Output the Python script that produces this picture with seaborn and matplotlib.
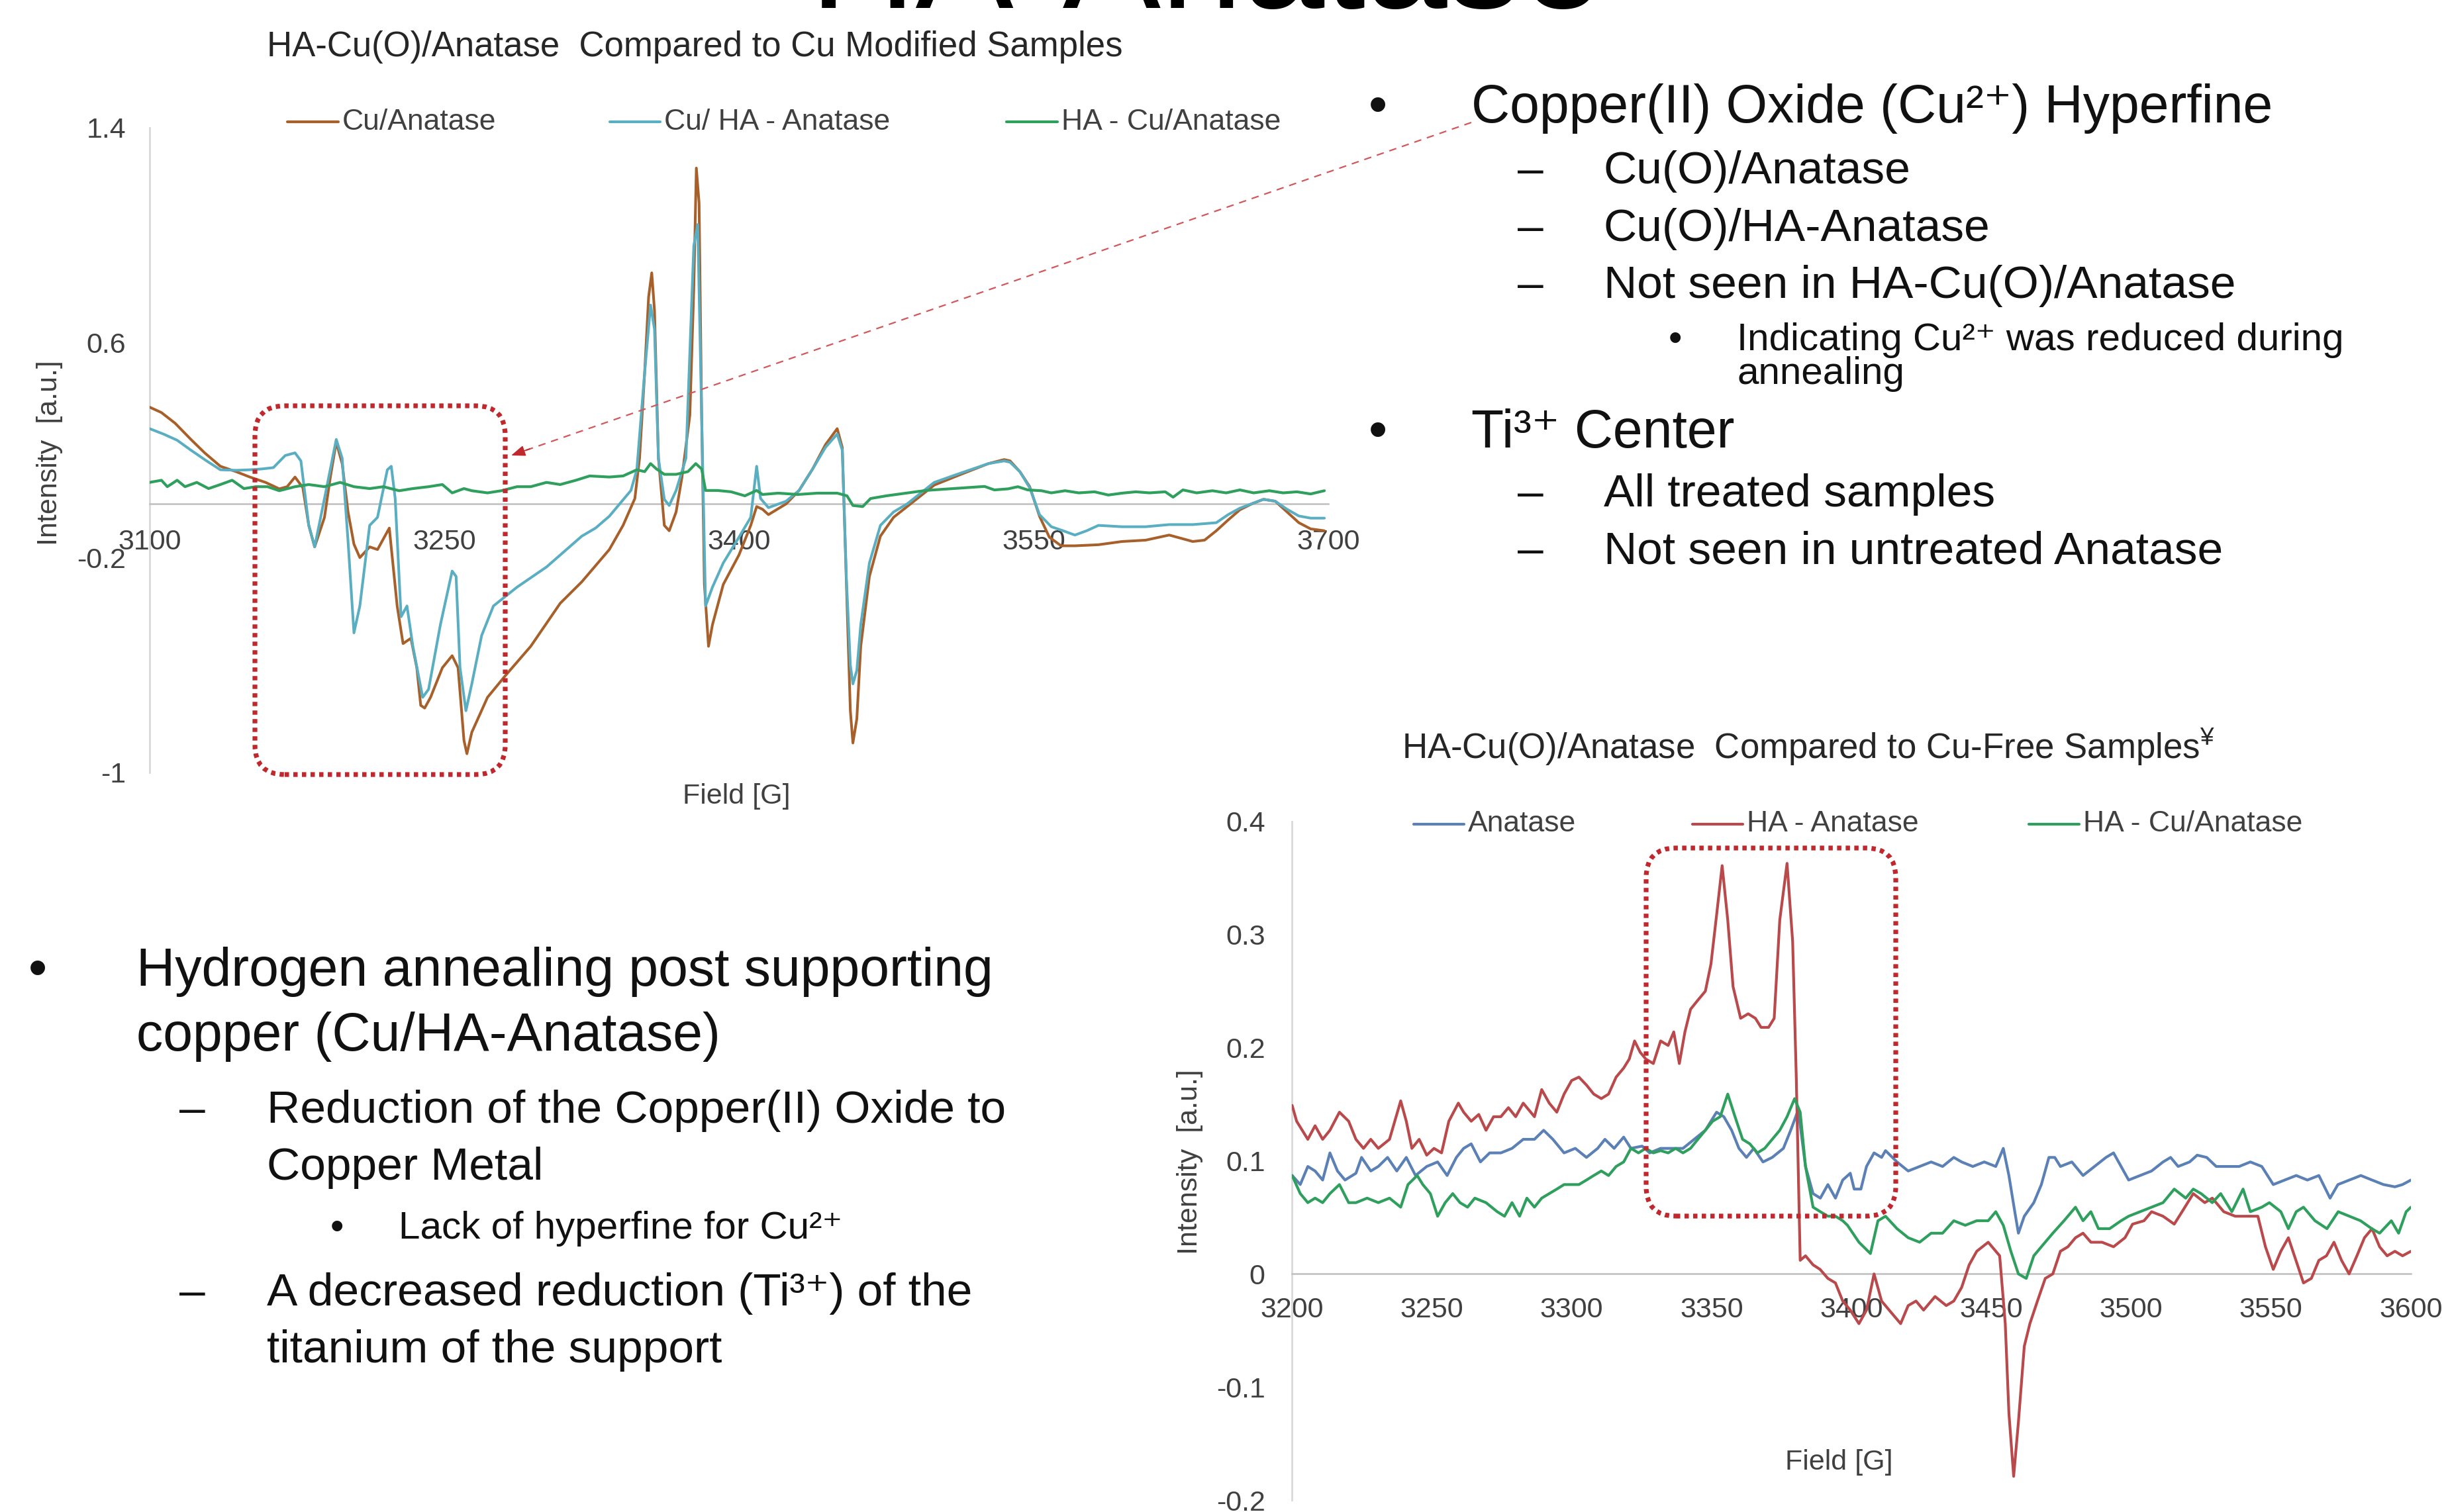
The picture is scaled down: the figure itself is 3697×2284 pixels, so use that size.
import matplotlib
matplotlib.use("Agg")
import matplotlib.pyplot as plt
import seaborn as sns
from matplotlib.lines import Line2D
from matplotlib.patches import FancyBboxPatch, FancyArrowPatch

# ---------------------------------------------------------------- data
# Upper panel: Cu modified samples (Field [G] vs Intensity [a.u.])
cu_anatase_field = [3100, 3106, 3113, 3121, 3128, 3136, 3144, 3151, 3159, 3166,
                    3170, 3174, 3178, 3181, 3184, 3189, 3192, 3195, 3198, 3201,
                    3204, 3207, 3212, 3216, 3219, 3222, 3226, 3229, 3233, 3236,
                    3238, 3240, 3243, 3249, 3254, 3257, 3260, 3261.5, 3264, 3272,
                    3281, 3294, 3309, 3320, 3327, 3334, 3341, 3347, 3349.4, 3352,
                    3354, 3355.6, 3357, 3359, 3362, 3364.5, 3368, 3371, 3375, 3377,
                    3378.3, 3379.7, 3381, 3382.4, 3384.5, 3386.5, 3392, 3400, 3406, 3409,
                    3412, 3415, 3424, 3430.6, 3437.5, 3444, 3450, 3452.6, 3454.7, 3456.7,
                    3458, 3460, 3462, 3466.4, 3472, 3478.7, 3485.6, 3492.5, 3499.4, 3513,
                    3527, 3535, 3538, 3543, 3548, 3553, 3558, 3564, 3571, 3583,
                    3595, 3607, 3619, 3631, 3637, 3643, 3649, 3655, 3661, 3667,
                    3673, 3679, 3685, 3691, 3698]
cu_anatase_int = [0.36, 0.34, 0.30, 0.24, 0.19, 0.14, 0.12, 0.10, 0.08, 0.056,
                  0.064, 0.10, 0.06, -0.08, -0.16, -0.05, 0.10, 0.23, 0.15, -0.03,
                  -0.15, -0.20, -0.16, -0.17, -0.13, -0.09, -0.38, -0.52, -0.50, -0.61,
                  -0.75, -0.76, -0.72, -0.61, -0.565, -0.61, -0.88, -0.93, -0.85, -0.72,
                  -0.64, -0.53, -0.37, -0.29, -0.23, -0.17, -0.08, 0.02, 0.17, 0.49,
                  0.77, 0.86, 0.72, 0.17, -0.08, -0.10, -0.03, 0.10, 0.33, 0.80,
                  1.25, 1.12, 0.33, -0.30, -0.53, -0.45, -0.30, -0.19, -0.08, -0.01,
                  -0.02, -0.04, 0.0, 0.05, 0.13, 0.22, 0.28, 0.21, -0.30, -0.77,
                  -0.89, -0.80, -0.53, -0.27, -0.12, -0.05, -0.01, 0.03, 0.07, 0.11,
                  0.15, 0.165, 0.16, 0.12, 0.064, -0.046, -0.124, -0.156, -0.156, -0.152,
                  -0.14, -0.135, -0.116, -0.14, -0.135, -0.10, -0.06, -0.022, 0.0, 0.017,
                  0.01, -0.03, -0.07, -0.093, -0.10]

cu_ha_anatase_field = [3100, 3107, 3114, 3121, 3129, 3136, 3144, 3151, 3157, 3163,
                       3169, 3174, 3177, 3181, 3184, 3189, 3195, 3198, 3201, 3204,
                       3207, 3212, 3216, 3221, 3223, 3225, 3228, 3231, 3234, 3239,
                       3242, 3248, 3254, 3256, 3258, 3261, 3264, 3269, 3275, 3287,
                       3302, 3320, 3327, 3334, 3345, 3348, 3352, 3355, 3357, 3359,
                       3362, 3364.5, 3368, 3373, 3377, 3379, 3381, 3383, 3386.5, 3392,
                       3400, 3406, 3409, 3411, 3415, 3424, 3430.6, 3437.5, 3444, 3450,
                       3452.6, 3454.7, 3456.7, 3458, 3460, 3462, 3466.4, 3472, 3478.7, 3485.6,
                       3492.5, 3499.4, 3513, 3527, 3535, 3538, 3543, 3548, 3553, 3559,
                       3565, 3571, 3577, 3583, 3595, 3607, 3619, 3631, 3643, 3649,
                       3655, 3667, 3673, 3679, 3685, 3691, 3698]
cu_ha_anatase_int = [0.28, 0.26, 0.237, 0.20, 0.16, 0.127, 0.125, 0.127, 0.13, 0.135,
                     0.18, 0.19, 0.16, -0.08, -0.16, 0.02, 0.24, 0.17, -0.14, -0.48,
                     -0.38, -0.08, -0.05, 0.127, 0.14, 0.02, -0.42, -0.38, -0.53, -0.72,
                     -0.69, -0.45, -0.25, -0.27, -0.61, -0.77, -0.67, -0.49, -0.38, -0.31,
                     -0.235, -0.12, -0.09, -0.046, 0.05, 0.127, 0.49, 0.74, 0.65, 0.17,
                     0.017, -0.006, 0.05, 0.17, 0.96, 1.04, 0.33, -0.38, -0.31, -0.22,
                     -0.124, -0.05, 0.14, 0.02, -0.014, 0.01, 0.05, 0.13, 0.21, 0.26,
                     0.20, -0.28, -0.60, -0.67, -0.62, -0.45, -0.22, -0.08, -0.03, 0.0,
                     0.04, 0.08, 0.115, 0.15, 0.16, 0.155, 0.12, 0.06, -0.04, -0.085,
                     -0.10, -0.116, -0.10, -0.08, -0.085, -0.085, -0.077, -0.077, -0.07, -0.04,
                     -0.016, 0.017, 0.01, -0.02, -0.045, -0.053, -0.053]

ha_cu_anatase_field_top = [3100, 3106, 3109, 3114, 3118, 3124, 3130, 3136, 3142, 3148,
                           3154, 3160, 3166, 3174, 3181, 3189, 3197, 3204, 3212, 3219,
                           3227, 3234, 3242, 3249, 3254, 3260, 3264, 3272, 3279, 3287,
                           3294, 3302, 3309, 3317, 3324, 3334, 3341, 3348, 3352, 3355,
                           3358, 3362, 3368, 3374, 3378, 3381, 3383, 3389, 3396, 3403,
                           3409, 3412, 3420, 3430, 3440, 3450, 3455, 3458, 3463, 3467,
                           3475, 3485, 3495, 3505, 3515, 3525, 3530, 3537, 3542, 3547,
                           3554, 3559, 3566, 3573, 3581, 3588, 3595, 3602, 3609, 3617,
                           3621, 3626, 3633, 3641, 3648, 3655, 3662, 3670, 3677, 3684,
                           3691, 3698]
ha_cu_anatase_int_top = [0.080, 0.088, 0.064, 0.088, 0.064, 0.080, 0.057, 0.072, 0.088, 0.057,
                         0.064, 0.064, 0.049, 0.064, 0.072, 0.064, 0.080, 0.064, 0.057, 0.064,
                         0.049, 0.057, 0.064, 0.072, 0.041, 0.057, 0.049, 0.041, 0.049, 0.064,
                         0.064, 0.080, 0.072, 0.088, 0.104, 0.100, 0.104, 0.127, 0.120, 0.150,
                         0.130, 0.110, 0.110, 0.120, 0.150, 0.130, 0.050, 0.050, 0.045, 0.030,
                         0.050, 0.035, 0.040, 0.035, 0.040, 0.040, 0.030, -0.006, -0.010, 0.020,
                         0.030, 0.040, 0.050, 0.055, 0.060, 0.065, 0.052, 0.056, 0.064, 0.052,
                         0.049, 0.041, 0.049, 0.041, 0.045, 0.033, 0.040, 0.045, 0.041, 0.045,
                         0.025, 0.052, 0.041, 0.049, 0.041, 0.052, 0.041, 0.049, 0.041, 0.045,
                         0.037, 0.049]

# Lower panel: Cu-free samples
anatase_field = [3200.1, 3203, 3205.7, 3208.3, 3211, 3213.6, 3216.3, 3219, 3222.9, 3224.9,
                 3228.2, 3230.9, 3234.2, 3237.5, 3240.9, 3244.2, 3248.2, 3252.1, 3255.5, 3258.8,
                 3261.4, 3264.1, 3267.4, 3270.7, 3274.7, 3278.7, 3282.7, 3286.7, 3290, 3293.3,
                 3297.3, 3301.3, 3305.3, 3309.3, 3311.9, 3315.2, 3318.6, 3321.2, 3325.2, 3327.9,
                 3331.8, 3335.8, 3339.8, 3343.8, 3347.8, 3351.8, 3354.4, 3357.2, 3359.8, 3362.5,
                 3365.1, 3368.4, 3371.7, 3375.7, 3378.3, 3381, 3383.6, 3386.3, 3388.9, 3391.6,
                 3394.3, 3396.9, 3399.6, 3401, 3403.4, 3405.4, 3408.1, 3410.8, 3412.2, 3416.3,
                 3420.3, 3424.4, 3428.5, 3432.6, 3436.6, 3439.4, 3443.4, 3447.5, 3451.6, 3454.3,
                 3456.3, 3458.4, 3459.7, 3461.8, 3465.2, 3467.9, 3470.6, 3472.7, 3474.7, 3478.8,
                 3482.8, 3486.9, 3491, 3493.7, 3496.4, 3499.1, 3503.2, 3507.3, 3511.4, 3514.1,
                 3516.8, 3520.9, 3523.6, 3527, 3530.4, 3534.5, 3538.6, 3542.6, 3546.7, 3550.8,
                 3554.9, 3559, 3563, 3567.1, 3571.1, 3573.9, 3578, 3582.1, 3586.1, 3590.2,
                 3594.3, 3597, 3600]
anatase_int = [0.087, 0.079, 0.095, 0.091, 0.083, 0.107, 0.091, 0.083, 0.089, 0.103,
               0.091, 0.095, 0.103, 0.091, 0.103, 0.087, 0.095, 0.099, 0.087, 0.103,
               0.111, 0.115, 0.099, 0.107, 0.107, 0.111, 0.119, 0.119, 0.127, 0.119,
               0.107, 0.111, 0.103, 0.111, 0.119, 0.111, 0.121, 0.111, 0.113, 0.107,
               0.111, 0.111, 0.111, 0.119, 0.127, 0.143, 0.139, 0.127, 0.111, 0.103,
               0.111, 0.099, 0.103, 0.111, 0.127, 0.145, 0.095, 0.071, 0.067, 0.079,
               0.067, 0.083, 0.089, 0.075, 0.075, 0.095, 0.107, 0.103, 0.109, 0.099,
               0.091, 0.095, 0.099, 0.095, 0.103, 0.099, 0.095, 0.099, 0.095, 0.111,
               0.087, 0.055, 0.036, 0.051, 0.063, 0.079, 0.103, 0.103, 0.095, 0.099,
               0.087, 0.095, 0.103, 0.107, 0.095, 0.083, 0.087, 0.091, 0.099, 0.103,
               0.095, 0.099, 0.105, 0.103, 0.095, 0.095, 0.095, 0.099, 0.095, 0.079,
               0.083, 0.087, 0.083, 0.087, 0.067, 0.079, 0.083, 0.087, 0.083, 0.079,
               0.077, 0.079, 0.083]

ha_anatase_field = [3200.1, 3201.7, 3205.7, 3208.3, 3211.0, 3213.6, 3217.0, 3220.3, 3222.9, 3225.6,
                    3228.2, 3230.9, 3234.9, 3238.9, 3240.9, 3242.9, 3245.5, 3248.2, 3250.8, 3253.5,
                    3256.1, 3259.5, 3261.4, 3264.1, 3266.8, 3269.4, 3272.1, 3274.7, 3277.4, 3280.0,
                    3282.7, 3286.7, 3289.3, 3292.0, 3294.7, 3297.3, 3300.0, 3302.6, 3305.3, 3307.9,
                    3310.6, 3313.2, 3315.9, 3318.6, 3320.6, 3322.5, 3324.5, 3326.5, 3329.2, 3331.8,
                    3334.5, 3336.5, 3338.5, 3340.5, 3342.5, 3345.1, 3347.8, 3349.8, 3351.8, 3353.8,
                    3355.8, 3357.7, 3360.4, 3363.1, 3365.7, 3367.7, 3370.4, 3372.4, 3374.4, 3377.0,
                    3379.0, 3380.3, 3381.7, 3383.6, 3386.3, 3388.8, 3391.6, 3394.3, 3396.9, 3399.6,
                    3402.7, 3405.4, 3408.1, 3410.8, 3413.5, 3417.6, 3420.3, 3423.1, 3425.8, 3429.9,
                    3433.9, 3436.6, 3439.4, 3442.1, 3444.8, 3448.9, 3453.0, 3455.0, 3456.3, 3458.0,
                    3459.7, 3461.8, 3463.8, 3466.5, 3469.3, 3472.0, 3474.7, 3477.4, 3480.1, 3482.8,
                    3485.6, 3489.6, 3493.7, 3497.8, 3500.5, 3504.6, 3507.3, 3511.4, 3515.4, 3518.2,
                    3522.2, 3526.3, 3529.0, 3533.1, 3537.2, 3541.3, 3545.3, 3548.0, 3550.8, 3553.5,
                    3556.2, 3558.9, 3561.6, 3564.4, 3567.1, 3569.8, 3572.5, 3575.2, 3577.9, 3580.7,
                    3583.4, 3586.1, 3588.8, 3591.5, 3594.3, 3597.0, 3600.0]
ha_anatase_int = [0.149, 0.135, 0.119, 0.131, 0.119, 0.127, 0.143, 0.135, 0.119, 0.111,
                  0.119, 0.111, 0.119, 0.153, 0.135, 0.111, 0.119, 0.105, 0.111, 0.107,
                  0.135, 0.151, 0.143, 0.135, 0.141, 0.127, 0.139, 0.139, 0.147, 0.139,
                  0.151, 0.139, 0.163, 0.151, 0.143, 0.159, 0.171, 0.174, 0.167, 0.159,
                  0.155, 0.159, 0.174, 0.182, 0.190, 0.206, 0.196, 0.190, 0.186, 0.206,
                  0.202, 0.214, 0.186, 0.214, 0.234, 0.242, 0.250, 0.274, 0.317, 0.361,
                  0.313, 0.254, 0.226, 0.230, 0.226, 0.218, 0.218, 0.226, 0.313, 0.363,
                  0.294, 0.174, 0.012, 0.016, 0.008, 0.004, -0.004, -0.008, -0.024, -0.032,
                  -0.044, -0.032, 0.000, -0.024, -0.032, -0.044, -0.028, -0.024, -0.032, -0.020,
                  -0.028, -0.024, -0.012, 0.008, 0.020, 0.028, 0.016, -0.044, -0.123, -0.179,
                  -0.131, -0.064, -0.044, -0.024, -0.004, 0.000, 0.020, 0.024, 0.032, 0.036,
                  0.028, 0.028, 0.024, 0.032, 0.044, 0.047, 0.055, 0.051, 0.044, 0.055,
                  0.071, 0.063, 0.067, 0.055, 0.051, 0.051, 0.051, 0.024, 0.004, 0.020,
                  0.032, 0.012, -0.008, -0.004, 0.012, 0.016, 0.028, 0.012, 0.000, 0.016,
                  0.032, 0.040, 0.024, 0.016, 0.020, 0.016, 0.020]

ha_cu_anatase_field = [3200.1, 3203, 3205.7, 3208.3, 3211, 3213.6, 3217, 3220.3, 3222.9, 3226.9,
                       3230.9, 3234.9, 3238.9, 3241.5, 3244.8, 3246.8, 3249.5, 3252.1, 3254.8, 3257.5,
                       3260.1, 3262.8, 3265.4, 3269.4, 3273.4, 3276, 3278.7, 3281.4, 3284, 3286.7,
                       3289.3, 3292, 3294.7, 3297.3, 3300, 3302.6, 3305.3, 3307.9, 3310.6, 3313.2,
                       3315.9, 3318.6, 3321.2, 3323.9, 3326.5, 3329.2, 3331.8, 3334.5, 3337.2, 3339.8,
                       3342.5, 3345.1, 3347.8, 3350.4, 3353.1, 3355.8, 3358.4, 3361.1, 3363.7, 3366.4,
                       3369, 3371.7, 3374.4, 3377, 3379.7, 3381.7, 3383.6, 3386.3, 3388.9, 3391.6,
                       3394.3, 3396.9,
                       3398.6, 3402.7, 3406.8, 3409.5, 3412.2, 3416.3, 3420.3, 3424.4, 3428.5, 3432.6,
                       3436.6, 3440.7, 3444.8, 3448.9, 3451.6, 3454.3, 3457, 3459.7, 3462.5, 3465.2,
                       3467.9, 3472, 3476, 3480.1, 3482.8, 3485.6, 3488.3, 3492.3, 3496.4, 3499.1,
                       3503.2, 3507.3, 3511.4, 3515.4, 3519.5, 3522.2, 3525, 3529, 3532, 3536,
                       3540, 3542.6, 3546.7, 3549.4, 3553.5, 3556.2, 3559, 3561.6, 3565.7, 3570,
                       3574, 3578, 3582, 3586, 3588.8, 3593, 3595.6, 3598.3, 3600]
ha_cu_anatase_int = [0.087, 0.071, 0.063, 0.067, 0.063, 0.071, 0.079, 0.063, 0.063, 0.067,
                     0.063, 0.067, 0.059, 0.079, 0.087, 0.079, 0.071, 0.051, 0.063, 0.071,
                     0.063, 0.059, 0.067, 0.063, 0.055, 0.051, 0.063, 0.051, 0.067, 0.059,
                     0.067, 0.071, 0.075, 0.079, 0.079, 0.079, 0.083, 0.087, 0.091, 0.087,
                     0.095, 0.099, 0.111, 0.107, 0.111, 0.107, 0.109, 0.107, 0.111, 0.107,
                     0.111, 0.119, 0.127, 0.135, 0.139, 0.159, 0.139, 0.119, 0.115, 0.107,
                     0.111, 0.119, 0.127, 0.139, 0.155, 0.143, 0.095, 0.059, 0.055, 0.051,
                     0.051, 0.047,
                     0.043, 0.028, 0.018, 0.047, 0.051, 0.040, 0.032, 0.028, 0.036, 0.036,
                     0.047, 0.043, 0.047, 0.047, 0.055, 0.043, 0.020, 0.000, -0.004, 0.016,
                     0.024, 0.036, 0.047, 0.059, 0.047, 0.055, 0.040, 0.040, 0.047, 0.051,
                     0.055, 0.059, 0.063, 0.075, 0.067, 0.075, 0.071, 0.063, 0.071, 0.055,
                     0.075, 0.055, 0.059, 0.063, 0.055, 0.040, 0.055, 0.059, 0.047, 0.040,
                     0.055, 0.051, 0.047, 0.040, 0.036, 0.047, 0.036, 0.055, 0.059]

top_xticks = [3100, 3250, 3400, 3550, 3700]
top_yticks = [-1.0, -0.2, 0.6, 1.4]
top_ylabels = ["-1", "-0.2", "0.6", "1.4"]
bot_xticks = [3200, 3250, 3300, 3350, 3400, 3450, 3500, 3550, 3600]
bot_yticks = [-0.2, -0.1, 0.0, 0.1, 0.2, 0.3, 0.4]
bot_ylabels = ["-0.2", "-0.1", "0", "0.1", "0.2", "0.3", "0.4"]

# ---------------------------------------------------------------- style
W, H, DPI = 3698, 2284, 100
sns.set_style("white")
plt.rcParams["font.family"] = ["Liberation Sans", "DejaVu Sans"]
plt.rcParams["mathtext.fontset"] = "custom"
plt.rcParams["mathtext.rm"] = "Liberation Sans"
plt.rcParams["mathtext.it"] = "Liberation Sans:italic"
plt.rcParams["mathtext.bf"] = "Liberation Sans:bold"

C_CU = "#a8602b"
C_CUHA = "#5aaec2"
C_HACU = "#2f9f5d"
C_ANA = "#5b80b6"
C_HAANA = "#b9494b"
BOX_RED = "#c0282d"
TXT = "#111111"
AXTXT = "#404040"

fig = plt.figure(figsize=(W / DPI, H / DPI), dpi=DPI)
fig.patch.set_facecolor("white")


def fx(px):
    return px / W


def fy(py):
    return 1 - py / H


def axes_px(left, top, right, bottom):
    return fig.add_axes([fx(left), fy(bottom), (right - left) / W, (bottom - top) / H])


def style_axes(ax, xlim, ylim, xmajor, xminor, yticks, ylabels, xpad, ypad):
    ax.set_xlim(*xlim)
    ax.set_ylim(*ylim)
    ax.set_facecolor("none")
    ax.grid(False)
    for s in ("top", "right"):
        ax.spines[s].set_visible(False)
    ax.spines["left"].set_color("#d9d9d9")
    ax.spines["left"].set_linewidth(2)
    ax.spines["bottom"].set_position(("data", 0))
    ax.spines["bottom"].set_color("#bfbfbf")
    ax.spines["bottom"].set_linewidth(1.8)
    ax.set_xticks(xmajor)
    ax.set_xticks(xminor, minor=True)
    ax.set_yticks(yticks)
    ax.set_yticklabels(ylabels)
    ax.tick_params(axis="x", which="both", direction="in", length=7, width=1.5,
                   color="#bfbfbf", pad=xpad, labelsize=31, labelcolor=AXTXT)
    ax.tick_params(axis="x", which="minor", length=6)
    ax.tick_params(axis="y", length=0, pad=ypad, labelsize=31, labelcolor=AXTXT)


def draw_series(ax, x, y, color, lw):
    sns.lineplot(x=x, y=y, ax=ax, color=color, linewidth=lw, estimator=None,
                 legend=False, zorder=3)


def legend_entry(x0, x1, y, color, label):
    fig.add_artist(Line2D([fx(x0), fx(x1)], [fy(y), fy(y)], transform=fig.transFigure,
                          color=color, lw=3))
    fig.text(fx(x1 + 6), fy(y), label, ha="left", va="center", fontsize=32, color=AXTXT)


# ---------------------------------------------------------------- upper chart
ax1 = axes_px(226, 193, 2006, 1167)
draw_series(ax1, cu_anatase_field, cu_anatase_int, C_CU, 2.9)
draw_series(ax1, cu_ha_anatase_field, cu_ha_anatase_int, C_CUHA, 2.9)
draw_series(ax1, ha_cu_anatase_field_top, ha_cu_anatase_int_top, C_HACU, 3.0)
style_axes(ax1, (3100, 3700), (-1.0, 1.4), top_xticks, list(range(3100, 3701, 50)),
           top_yticks, top_ylabels, xpad=27, ypad=26)
ax1.set_xlabel("Field [G]", fontsize=31, color=AXTXT)
ax1.xaxis.set_label_coords(0.498, -0.037)
ax1.xaxis.label.set_verticalalignment("center")
ax1.set_ylabel("Intensity  [a.u.]", fontsize=31, color=AXTXT)
ax1.yaxis.set_label_coords(-0.0848, 0.496)
ax1.yaxis.label.set_verticalalignment("center")
ax1.set_title("HA-Cu(O)/Anatase  Compared to Cu Modified Samples", x=0.4624, y=1.1253,
              va="center", fontsize=38, color="#262626", pad=0)

legend_entry(434, 511, 184, C_CU, "Cu/Anatase")
legend_entry(921, 997, 184, C_CUHA, "Cu/ HA - Anatase")
legend_entry(1520, 1597, 184, C_HACU, "HA - Cu/Anatase")

# ---------------------------------------------------------------- lower chart
ax2 = axes_px(1951, 1241, 3641, 2266)
draw_series(ax2, anatase_field, anatase_int, C_ANA, 3.0)
draw_series(ax2, ha_anatase_field, ha_anatase_int, C_HAANA, 3.0)
draw_series(ax2, ha_cu_anatase_field, ha_cu_anatase_int, C_HACU, 3.0)
style_axes(ax2, (3200, 3600), (-0.2, 0.4), bot_xticks, list(range(3200, 3601, 25)),
           bot_yticks, bot_ylabels, xpad=25, ypad=29)
ax2.set_xlabel("Field [G]", fontsize=31, color=AXTXT)
ax2.xaxis.set_label_coords(0.489, 0.0556)
ax2.xaxis.label.set_verticalalignment("center")
ax2.set_ylabel("Intensity  [a.u.]", fontsize=31, color=AXTXT)
ax2.yaxis.set_label_coords(-0.0911, 0.4985)
ax2.yaxis.label.set_verticalalignment("center")
ax2.set_title(r"HA-Cu(O)/Anatase  Compared to Cu-Free Samples$^{¥}$", x=0.4615, y=1.1093,
              va="center", fontsize=38, color="#262626", pad=0)

legend_entry(2135, 2211, 1245, C_ANA, "Anatase")
legend_entry(2556, 2632, 1245, C_HAANA, "HA - Anatase")
legend_entry(3064, 3140, 1245, C_HACU, "HA - Cu/Anatase")

# ---------------------------------------------------------------- highlight boxes and arrow
inch = fig.dpi_scale_trans


def red_box(x0, y0, x1, y1, r=45):
    box = FancyBboxPatch((x0 / DPI, (H - y1) / DPI), (x1 - x0) / DPI, (y1 - y0) / DPI,
                         boxstyle=f"round,pad=0,rounding_size={r / DPI}", transform=inch,
                         fill=False, edgecolor=BOX_RED, lw=5.2, linestyle=(0, (0.9, 0.9)),
                         zorder=5)
    fig.add_artist(box)


red_box(385, 613, 763, 1170)
red_box(2486, 1281, 2863, 1837)

fig.add_artist(Line2D([2222 / DPI, 792 / DPI], [(H - 185) / DPI, (H - 681) / DPI],
                      transform=inch, color="#d2575a", lw=1.6, linestyle=(0, (5, 4)),
                      zorder=5))
fig.add_artist(FancyArrowPatch((800 / DPI, (H - 678) / DPI), (772 / DPI, (H - 688) / DPI),
                               transform=inch, arrowstyle="-|>,head_length=1.3,head_width=0.5",
                               mutation_scale=10, color=BOX_RED, lw=1.2,
                               shrinkA=0, shrinkB=0, zorder=5))

# ---------------------------------------------------------------- slide text
fig.text(fx(1822), fy(12), "HA-Anatase", fontsize=160, ha="center", va="baseline",
         color="black")


def put(px, py, s, size):
    fig.text(fx(px), fy(py), s, fontsize=size, ha="left", va="baseline", color=TXT)


L1, L2, L3 = 58, 50, 42

put(2067, 185, "•", L1)
put(2222, 185, "Copper(II) Oxide (Cu²⁺) Hyperfine", L1)
put(2292, 277, "–", L2)
put(2422, 277, "Cu(O)/Anatase", L2)
put(2292, 364, "–", L2)
put(2422, 364, "Cu(O)/HA-Anatase", L2)
put(2292, 450, "–", L2)
put(2422, 450, "Not seen in HA-Cu(O)/Anatase", L2)
put(2520, 529, "•", L3)
put(2623, 529, "Indicating Cu²⁺ was reduced during", L3)
put(2623, 580, "annealing", L3)
put(2067, 676, "•", L1)
put(2222, 676, "Ti³⁺ Center", L1)
put(2292, 765, "–", L2)
put(2422, 765, "All treated samples", L2)
put(2292, 851, "–", L2)
put(2422, 851, "Not seen in untreated Anatase", L2)

put(43, 1489, "•", L1)
put(206, 1489, "Hydrogen annealing post supporting", L1)
put(206, 1587, "copper (Cu/HA-Anatase)", L1)
put(271, 1696, "–", L2)
put(403, 1696, "Reduction of the Copper(II) Oxide to", L2)
put(403, 1782, "Copper Metal", L2)
put(499, 1871, "•", L3)
put(602, 1871, "Lack of hyperfine for Cu²⁺", L3)
put(271, 1972, "–", L2)
put(403, 1972, "A decreased reduction (Ti³⁺) of the", L2)
put(403, 2058, "titanium of the support", L2)

fig.savefig("out.png", dpi=DPI, facecolor="white")
